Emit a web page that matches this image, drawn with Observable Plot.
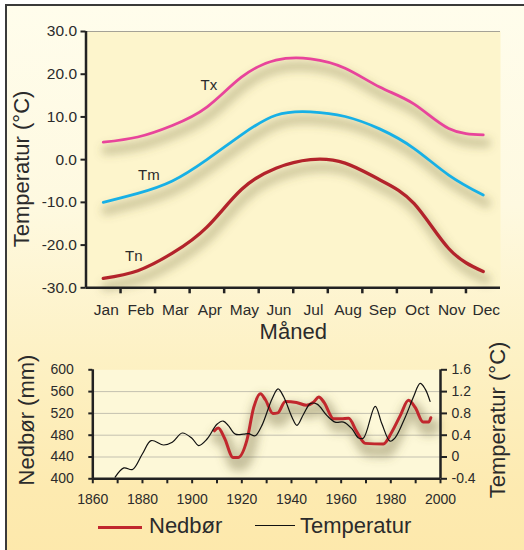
<!DOCTYPE html>
<html><head><meta charset="utf-8">
<script src="https://cdn.jsdelivr.net/npm/d3@7"></script>
<script src="https://cdn.jsdelivr.net/npm/@observablehq/plot@0.6"></script>
<style>
body{margin:0;background:#fff;}
#wrap{position:relative;width:524px;height:550px;overflow:hidden;font-family:"Liberation Sans",Arial,sans-serif;color:#2b2b2b;}
#bg{position:absolute;left:5px;top:4px;width:540px;height:570px;border-left:2px solid #3a3a3a;border-top:2px solid #3a3a3a;background:linear-gradient(#fffdec 0%,#fef9e0 35%,#fdf1c4 62%,#fdeab0 85%,#fde8aa 100%);}
.abs{position:absolute;white-space:nowrap;line-height:1;}
.rot{transform:translate(-50%,-50%) rotate(-90deg);font-size:22px;}
#top,#bot{position:absolute;left:0;}
#top{top:0;} #bot{top:350px;}
</style></head>
<body><div id="wrap"><div id="bg"></div>
<div id="top"></div><div id="bot"></div>
<div class="abs rot" style="left:22px;top:169px;">Temperatur (°C)</div>
<div class="abs rot" style="left:27px;top:420px;">Nedbør (mm)</div>
<div class="abs rot" style="left:498px;top:420px;">Temperatur (°C)</div>
<div class="abs" style="left:98px;top:526px;width:44px;height:3px;background:#c1272d;"></div>
<div class="abs" style="left:149px;top:515.4px;font-size:22px;">Nedbør</div>
<div class="abs" style="left:255px;top:524.5px;width:40px;height:1.5px;background:#111;"></div>
<div class="abs" style="left:300px;top:515.4px;font-size:22px;">Temperatur</div>
</div>
<script>
// ---- top panel data (monthly temperatures, °C)
const months = ["Jan","Feb","Mar","Apr","May","Jun","Jul","Aug","Sep","Oct","Nov","Dec"];
const tx = [4.1, 5.3, 8.0, 12.3, 19.3, 23.3, 23.6, 21.4, 17.0, 13.0, 7.3, 5.8];
const tm = [-10.0, -7.9, -5.0, 0.0, 5.8, 10.4, 11.2, 10.1, 7.2, 2.6, -3.6, -8.3];
const tn = [-27.8, -26.0, -21.9, -15.8, -7.0, -2.0, 0.0, -0.8, -4.7, -10.3, -20.8, -26.2];
const yTicksTop = [-30, -20, -10, 0, 10, 20, 30];

// ---- bottom panel data
const precipYears = [1909,1910.5,1913,1916.5,1918.5,1922,1924.8,1927.5,1929.5,1932.5,1934.5,1937.5,1942,1946,1949,1951,1953,1957,1960,1963,1966.3,1969.7,1977,1980.4,1983.8,1987.1,1989.8,1993,1995.2,1996.1];
const precipMm =    [488,493,475,439,439,470,531,556,545,520,521,542,540,535,541,550,541,510,510,511,486,465,464,486,516,544,531,504,504,512];
const tempYears = [1869,1872.5,1876,1880,1883.5,1888.5,1892,1896,1900,1902.6,1906,1910,1912.5,1914.5,1917.4,1920.7,1922.7,1925.4,1928.1,1932.2,1934.6,1936.9,1940.2,1942.2,1944.9,1947.6,1950.3,1954.3,1957.6,1961,1964.3,1967,1969,1973.7,1976.4,1979.7,1981.7,1985.8,1989.1,1991.8,1993.8,1995.8];
const tempC =     [-0.37,-0.2,-0.23,0.06,0.30,0.22,0.27,0.44,0.34,0.21,0.33,0.60,0.66,0.58,0.42,0.42,0.43,0.39,0.58,1.07,1.25,1.10,0.73,0.58,0.79,0.98,0.97,0.76,0.64,0.64,0.52,0.35,0.35,0.93,0.61,0.29,0.35,0.73,1.10,1.35,1.25,1.02];
const mmTicks = [400, 440, 480, 520, 560, 600];
const yearTicks = [1860, 1880, 1900, 1920, 1940, 1960, 1980, 2000];
const yearMinor = [1860,1870,1880,1890,1900,1910,1920,1930,1940,1950,1960,1970,1980,1990,2000];

const FONT = '"Liberation Sans", Arial, sans-serif';
const SHADOW = "#6a6438";
const rows = arr => arr.map((v, i) => ({m: i + 1, v}));
const series = [
  {name: "Tx", data: rows(tx), color: "#e8449b", w: 2.8},
  {name: "Tm", data: rows(tm), color: "#17b0e6", w: 2.8},
  {name: "Tn", data: rows(tn), color: "#b3232b", w: 3.3}
];

const topPlot = Plot.plot({
  width: 524, height: 350,
  marginLeft: 85.5, marginRight: 24, marginTop: 31, marginBottom: 62.7,
  x: {domain: [0.5, 12.5]},
  y: {domain: [-30, 30]},
  style: {background: "transparent", fontFamily: FONT, color: "#2b2b2b", overflow: "visible"},
  marks: [
    Plot.frame({fill: "#fdf5cc", stroke: null}),
    Plot.ruleY([30], {stroke: "#a5a296", strokeWidth: 1.2}),
    ...series.map(s => Plot.line(s.data, {x: "m", y: "v", curve: "natural", stroke: SHADOW, strokeOpacity: 0.3, strokeWidth: 10, dx: 3, dy: 8})),
    ...series.map(s => Plot.line(s.data, {x: "m", y: "v", curve: "natural", stroke: s.color, strokeWidth: s.w})),
    Plot.text([series[0].data[3]], {x: "m", y: "v", text: () => "Tx", dx: 2, dy: -22, fontSize: 15, fill: "#2b2b2b"}),
    Plot.text([series[1].data[1]], {x: "m", y: "v", text: () => "Tm", dx: 11, dy: -18, fontSize: 15, fill: "#2b2b2b"}),
    Plot.text([series[2].data[1]], {x: "m", y: "v", text: () => "Tn", dx: -4, dy: -15, fontSize: 15, fill: "#2b2b2b"}),
    Plot.axisY({ticks: yTicksTop, tickFormat: d => d.toFixed(1), tickSize: 5, tickPadding: 4, strokeWidth: 2, fontSize: 15.5, label: null, stroke: "#222"}),
    Plot.axisX({ticks: [1.5,2.5,3.5,4.5,5.5,6.5,7.5,8.5,9.5,10.5,11.5], tickSize: 6, tickFormat: () => "", strokeWidth: 2.5, label: null, stroke: "#222"}),
    Plot.axisX({ticks: months.map((m, i) => i + 1), tickSize: 0, tickPadding: 16.5, tickFormat: i => months[i - 1], fontSize: 15.5, dx: 3, label: null}),
    Plot.ruleX([0.5], {stroke: "#222", strokeWidth: 2.5}),
    Plot.ruleY([-30], {stroke: "#222", strokeWidth: 2.5}),
    Plot.text(["Måned"], {frameAnchor: "bottom", dy: 50.7, fontSize: 22, fill: "#2b2b2b"})
  ]
});

const precip = precipYears.map((y, i) => ({year: y, mm: precipMm[i]}));
const temp = tempYears.map((y, i) => ({year: y, t: tempC[i]}));
const tToMm = t => 400 + (t + 0.4) * 100;
const mmToT = mm => { const t = Math.round(((mm - 400) / 100 - 0.4) * 10) / 10; return t === 0 ? "0" : t.toFixed(1); };

const botPlot = Plot.plot({
  width: 524, height: 200,
  marginLeft: 92.3, marginRight: 84, marginTop: 19.3, marginBottom: 71.7,
  x: {domain: [1860, 2000]},
  y: {domain: [400, 600]},
  style: {background: "transparent", fontFamily: FONT, color: "#2b2b2b", overflow: "visible"},
  marks: [
    Plot.frame({fill: "#fdf8d8", stroke: null}),
    Plot.ruleY([440, 480, 520, 560], {stroke: "#c4c1b0", strokeWidth: 1}),
    Plot.line(precip, {x: "year", y: "mm", curve: "monotone-x", stroke: SHADOW, strokeOpacity: 0.38, strokeWidth: 13, dx: 3, dy: 7}),
    Plot.line(precip, {x: "year", y: "mm", curve: "monotone-x", stroke: "#c1272d", strokeWidth: 3}),
    Plot.line(temp, {x: "year", y: d => tToMm(d.t), curve: "catmull-rom", stroke: "#111", strokeWidth: 1.2}),
    Plot.axisY({anchor: "left", ticks: mmTicks, tickSize: 4, tickPadding: 15, strokeWidth: 2, fontSize: 14, label: null, stroke: "#222"}),
    Plot.axisY({anchor: "right", ticks: mmTicks, tickFormat: mmToT, tickSize: 6, tickPadding: 5, strokeWidth: 2, fontSize: 14, label: null, stroke: "#222"}),
    Plot.axisX({ticks: yearMinor, tickSize: 5, tickFormat: () => "", strokeWidth: 2, label: null, stroke: "#222"}),
    Plot.axisX({ticks: yearTicks, tickSize: 0, tickPadding: 15.7, tickFormat: d => String(d), fontSize: 14, label: null}),
    Plot.ruleX([1860, 2000], {stroke: "#222", strokeWidth: 2.5}),
    Plot.ruleY([400], {stroke: "#222", strokeWidth: 2.5})
  ]
});

function addBlur(svg, id, sd) {
  const ns = "http://www.w3.org/2000/svg";
  const defs = document.createElementNS(ns, "defs");
  const f = document.createElementNS(ns, "filter");
  f.setAttribute("id", id);
  f.setAttribute("filterUnits", "userSpaceOnUse");
  f.setAttribute("x", "0"); f.setAttribute("y", "0");
  f.setAttribute("width", "524"); f.setAttribute("height", "400");
  const b = document.createElementNS(ns, "feGaussianBlur");
  b.setAttribute("stdDeviation", sd);
  f.appendChild(b); defs.appendChild(f);
  svg.insertBefore(defs, svg.firstChild);
  svg.querySelectorAll("g").forEach(g => {
    if ((g.getAttribute("stroke") || "").toLowerCase() === SHADOW) g.setAttribute("filter", `url(#${id})`);
  });
}
addBlur(topPlot, "blurTop", 4);
addBlur(botPlot, "blurBot", 5);

document.getElementById("top").appendChild(topPlot);
document.getElementById("bot").appendChild(botPlot);
</script>
</body></html>
